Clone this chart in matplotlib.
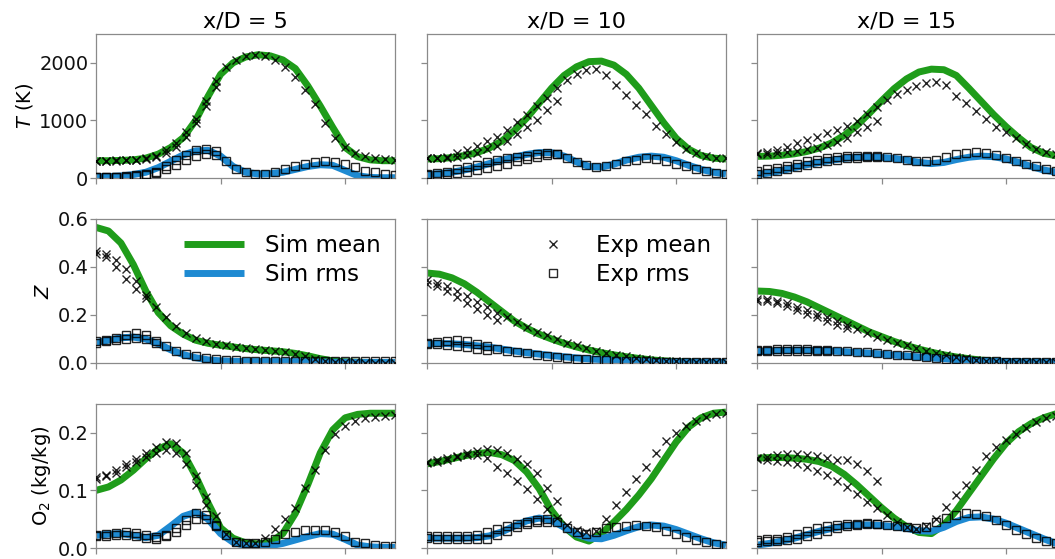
import numpy as np
import matplotlib
matplotlib.use("Agg")
import matplotlib.pyplot as plt

# ---------------- data ----------------
col_titles = ["x/D = 5", "x/D = 10", "x/D = 15"]
row_labels = [r"$T$ (K)", r"$Z$", r"O$_2$ (kg/kg)"]

x_sim = np.round(np.arange(25) * 0.1, 2)   # radial positions, simulation
x_exp = np.round(np.arange(31) * 0.08, 2)  # radial positions, experiment

# ---- Temperature ----
T5_sim_mean = [300, 300, 305, 315, 345, 415, 530, 700, 1000, 1420, 1800, 2000, 2100, 2140, 2120, 2050, 1900, 1600, 1250, 880, 530, 370, 315, 300, 300]
T5_sim_rms = [20, 25, 35, 60, 100, 180, 290, 400, 470, 480, 380, 200, 100, 70, 75, 100, 150, 200, 230, 220, 130, 40, 10, 5, 5]
T5_exp_mean = [300, 300, 305, 310, 320, 340, 390, 480, 600, 800, 1030, 1330, 1680, 1920, 2050, 2110, 2140, 2110, 2040, 1930, 1760, 1530, 1280, 960, 700, 540, 430, 380, 355, 330, 310]
T5_exp_mean2 = [300, 300, 300, 305, 310, 325, 360, 430, 540, 720, 950, 1250, 1580]
T5_exp_rms = [20, 22, 25, 30, 45, 65, 110, 200, 310, 400, 480, 510, 470, 300, 160, 100, 75, 75, 100, 150, 200, 240, 270, 290, 280, 240, 190, 130, 100, 70, 50]
T5_exp_rms2 = [15, 18, 20, 25, 35, 55, 90, 150, 230, 310, 380, 420, 400]

T10_sim_mean = [330, 335, 355, 390, 440, 520, 640, 820, 1040, 1300, 1560, 1780, 1930, 2020, 2030, 1960, 1800, 1560, 1260, 960, 690, 500, 390, 345, 330]
T10_sim_rms = [60, 75, 100, 140, 190, 250, 310, 360, 410, 440, 440, 380, 280, 200, 190, 240, 310, 360, 380, 360, 300, 220, 150, 100, 70]
T10_exp_mean = [340, 350, 370, 430, 490, 560, 640, 720, 840, 970, 1100, 1250, 1390, 1560, 1710, 1810, 1880, 1890, 1780, 1620, 1440, 1270, 1110, 910, 760, 620, 500, 430, 380, 350, 340]
T10_exp_mean2 = [340, 340, 350, 370, 400, 440, 500, 560, 650, 760, 880, 1000, 1180, 1330]
T10_exp_rms = [70, 85, 110, 150, 190, 230, 270, 310, 340, 370, 390, 410, 430, 420, 350, 280, 220, 185, 200, 250, 290, 320, 340, 330, 300, 250, 200, 150, 115, 85, 70]
T10_exp_rms2 = [50, 55, 65, 85, 110, 140, 175, 210, 250, 290, 330, 370, 400, 410]

T15_sim_mean = [375, 380, 395, 420, 460, 520, 610, 740, 910, 1120, 1340, 1550, 1720, 1840, 1890, 1880, 1780, 1560, 1330, 1100, 890, 700, 530, 430, 385]
T15_sim_rms = [60, 90, 130, 180, 230, 270, 310, 340, 360, 360, 355, 340, 310, 270, 250, 270, 320, 360, 380, 370, 330, 270, 200, 140, 100]
T15_exp_mean = [430, 460, 490, 540, 600, 660, 710, 775, 830, 900, 990, 1110, 1240, 1360, 1450, 1530, 1590, 1650, 1660, 1610, 1424, 1297, 1164, 1020, 893, 790, 686, 588, 500, 444, 410]
T15_exp_mean2 = [420, 425, 435, 455, 475, 495, 525, 570, 630, 700, 790, 880, 990]
T15_exp_rms = [130, 150, 175, 210, 250, 290, 320, 345, 360, 375, 380, 380, 375, 365, 345, 320, 300, 295, 320, 360, 410, 440, 450, 440, 400, 350, 300, 250, 200, 160, 120]
T15_exp_rms2 = [75, 90, 115, 150, 190, 230, 265, 295, 320, 340, 355, 365, 370]

# ---- Mixture fraction ----
Z5_sim_mean = [0.565, 0.55, 0.50, 0.41, 0.30, 0.21, 0.155, 0.12, 0.095, 0.082, 0.074, 0.067, 0.060, 0.055, 0.051, 0.047, 0.040, 0.030, 0.018, 0.009, 0.005, 0.003, 0.002, 0.001, 0.001]
Z5_sim_rms = [0.085, 0.095, 0.105, 0.108, 0.10, 0.08, 0.055, 0.035, 0.022, 0.013, 0.009, 0.007, 0.006, 0.006, 0.006, 0.006, 0.006, 0.005, 0.004, 0.003, 0.003, 0.002, 0.002, 0.002, 0.002]
Z5_exp_mean = [0.465, 0.455, 0.43, 0.39, 0.34, 0.285, 0.235, 0.19, 0.155, 0.125, 0.105, 0.09, 0.08, 0.073, 0.067, 0.062, 0.058, 0.055, 0.05, 0.045, 0.037, 0.028, 0.018, 0.01, 0.006, 0.004, 0.003, 0.002, 0.002, 0.001, 0.001]
Z5_exp_mean2 = [0.455, 0.44, 0.40, 0.35, 0.31, 0.27]
Z5_exp_rms = [0.09, 0.095, 0.105, 0.115, 0.125, 0.115, 0.09, 0.07, 0.052, 0.038, 0.028, 0.02, 0.015, 0.012, 0.011, 0.01, 0.01, 0.01, 0.01, 0.01, 0.009, 0.009, 0.009, 0.008, 0.008, 0.008, 0.008, 0.007, 0.007, 0.007, 0.007]
Z5_exp_rms2 = [0.085, 0.09, 0.095, 0.10, 0.105, 0.10, 0.085]

Z10_sim_mean = [0.375, 0.37, 0.355, 0.33, 0.295, 0.255, 0.215, 0.175, 0.145, 0.12, 0.10, 0.082, 0.067, 0.054, 0.043, 0.034, 0.026, 0.019, 0.013, 0.009, 0.006, 0.004, 0.003, 0.002, 0.002]
Z10_sim_rms = [0.08, 0.081, 0.08, 0.077, 0.072, 0.066, 0.058, 0.05, 0.043, 0.037, 0.031, 0.026, 0.021, 0.017, 0.014, 0.011, 0.009, 0.007, 0.006, 0.005, 0.004, 0.004, 0.003, 0.003, 0.003]
Z10_exp_mean = [0.345, 0.335, 0.32, 0.30, 0.28, 0.255, 0.235, 0.21, 0.19, 0.17, 0.15, 0.13, 0.115, 0.10, 0.085, 0.073, 0.062, 0.052, 0.043, 0.035, 0.028, 0.022, 0.016, 0.012, 0.009, 0.007, 0.006, 0.005, 0.005, 0.004, 0.004]
Z10_exp_mean2 = [0.33, 0.32, 0.30, 0.275, 0.25, 0.225, 0.20, 0.18]
Z10_exp_rms = [0.085, 0.088, 0.092, 0.095, 0.09, 0.08, 0.07, 0.06, 0.052, 0.045, 0.04, 0.035, 0.03, 0.026, 0.022, 0.018, 0.015, 0.013, 0.011, 0.009, 0.008, 0.007, 0.007, 0.006, 0.006, 0.006, 0.005, 0.005, 0.005, 0.005, 0.005]
Z10_exp_rms2 = [0.08, 0.078, 0.075, 0.07, 0.065, 0.06, 0.055]

Z15_sim_mean = [0.30, 0.298, 0.29, 0.275, 0.255, 0.23, 0.205, 0.18, 0.155, 0.13, 0.11, 0.09, 0.073, 0.058, 0.045, 0.034, 0.025, 0.018, 0.012, 0.008, 0.006, 0.004, 0.003, 0.003, 0.002]
Z15_sim_rms = [0.047, 0.05, 0.052, 0.053, 0.053, 0.052, 0.05, 0.047, 0.044, 0.041, 0.037, 0.033, 0.029, 0.025, 0.021, 0.018, 0.014, 0.011, 0.009, 0.007, 0.006, 0.005, 0.004, 0.004, 0.003]
Z15_exp_mean = [0.265, 0.265, 0.26, 0.25, 0.235, 0.22, 0.205, 0.19, 0.175, 0.158, 0.14, 0.125, 0.11, 0.097, 0.085, 0.073, 0.062, 0.052, 0.042, 0.033, 0.025, 0.019, 0.014, 0.01, 0.008, 0.006, 0.005, 0.005, 0.004, 0.004, 0.004]
Z15_exp_mean2 = [0.26, 0.258, 0.25, 0.238, 0.222, 0.205, 0.19, 0.175, 0.16, 0.145]
Z15_exp_rms = [0.053, 0.055, 0.057, 0.058, 0.058, 0.057, 0.056, 0.054, 0.052, 0.05, 0.047, 0.044, 0.041, 0.038, 0.035, 0.032, 0.028, 0.025, 0.021, 0.018, 0.015, 0.012, 0.01, 0.008, 0.007, 0.006, 0.005, 0.005, 0.005, 0.004, 0.004]
Z15_exp_rms2 = [0.048, 0.05, 0.051, 0.052, 0.052, 0.051, 0.05, 0.048]

# ---- Oxygen mass fraction ----
O5_sim_mean = [0.10, 0.106, 0.118, 0.135, 0.155, 0.172, 0.181, 0.165, 0.125, 0.078, 0.035, 0.017, 0.009, 0.007, 0.01, 0.025, 0.06, 0.11, 0.165, 0.205, 0.226, 0.232, 0.234, 0.234, 0.234]
O5_sim_rms = [0.022, 0.024, 0.025, 0.022, 0.018, 0.022, 0.038, 0.055, 0.062, 0.05, 0.025, 0.01, 0.004, 0.003, 0.004, 0.008, 0.014, 0.02, 0.025, 0.024, 0.015, 0.005, 0.002, 0.001, 0.001]
O5_exp_mean = [0.123, 0.127, 0.135, 0.145, 0.155, 0.165, 0.176, 0.184, 0.182, 0.165, 0.125, 0.088, 0.055, 0.025, 0.01, 0.008, 0.009, 0.017, 0.033, 0.051, 0.07, 0.105, 0.135, 0.17, 0.198, 0.212, 0.22, 0.225, 0.228, 0.23, 0.231]
O5_exp_mean2 = [0.12, 0.125, 0.13, 0.14, 0.15, 0.158, 0.165, 0.17, 0.165, 0.145, 0.11, 0.075]
O5_exp_rms = [0.022, 0.024, 0.026, 0.028, 0.026, 0.022, 0.019, 0.022, 0.034, 0.048, 0.06, 0.058, 0.04, 0.022, 0.011, 0.008, 0.008, 0.01, 0.016, 0.024, 0.028, 0.031, 0.032, 0.032, 0.028, 0.02, 0.011, 0.008, 0.005, 0.004, 0.0035]
O5_exp_rms2 = [0.02, 0.021, 0.022, 0.023, 0.02, 0.017, 0.016, 0.02, 0.028, 0.04, 0.05, 0.05, 0.038]

O10_sim_mean = [0.146, 0.150, 0.155, 0.16, 0.164, 0.166, 0.162, 0.152, 0.132, 0.103, 0.065, 0.037, 0.019, 0.012, 0.025, 0.045, 0.067, 0.092, 0.12, 0.152, 0.184, 0.21, 0.226, 0.234, 0.236]
O10_sim_rms = [0.017, 0.017, 0.017, 0.017, 0.018, 0.021, 0.028, 0.038, 0.047, 0.052, 0.048, 0.036, 0.024, 0.017, 0.016, 0.022, 0.03, 0.037, 0.04, 0.038, 0.032, 0.024, 0.016, 0.009, 0.005]
O10_exp_mean = [0.148, 0.15, 0.153, 0.158, 0.162, 0.162, 0.156, 0.141, 0.13, 0.117, 0.102, 0.085, 0.068, 0.052, 0.04, 0.031, 0.027, 0.03, 0.05, 0.075, 0.098, 0.12, 0.14, 0.165, 0.185, 0.2, 0.212, 0.221, 0.228, 0.232, 0.235]
O10_exp_mean2 = [0.15, 0.152, 0.156, 0.16, 0.165, 0.169, 0.172, 0.17, 0.165, 0.155, 0.145, 0.13, 0.105, 0.082]
O10_exp_rms = [0.02, 0.02, 0.02, 0.02, 0.021, 0.022, 0.027, 0.033, 0.038, 0.042, 0.045, 0.048, 0.05, 0.045, 0.035, 0.028, 0.024, 0.028, 0.034, 0.037, 0.039, 0.04, 0.039, 0.036, 0.03, 0.024, 0.019, 0.014, 0.01, 0.007, 0.004]
O10_exp_rms2 = [0.017, 0.016, 0.016, 0.016, 0.016, 0.015, 0.016, 0.022, 0.03, 0.036, 0.042, 0.046, 0.045]

O15_sim_mean = [0.156, 0.157, 0.157, 0.156, 0.154, 0.15, 0.142, 0.128, 0.11, 0.09, 0.07, 0.052, 0.037, 0.027, 0.025, 0.04, 0.065, 0.095, 0.125, 0.155, 0.182, 0.202, 0.216, 0.226, 0.233]
O15_sim_rms = [0.005, 0.008, 0.012, 0.017, 0.023, 0.029, 0.034, 0.038, 0.04, 0.04, 0.039, 0.037, 0.034, 0.03, 0.029, 0.036, 0.046, 0.053, 0.054, 0.05, 0.043, 0.034, 0.025, 0.016, 0.008]
O15_exp_mean = [0.154, 0.153, 0.151, 0.149, 0.145, 0.14, 0.134, 0.126, 0.117, 0.106, 0.094, 0.08, 0.07, 0.057, 0.046, 0.037, 0.033, 0.038, 0.05, 0.072, 0.092, 0.11, 0.135, 0.16, 0.176, 0.188, 0.198, 0.209, 0.218, 0.225, 0.23]
O15_exp_mean2 = [0.157, 0.158, 0.161, 0.163, 0.163, 0.162, 0.16, 0.157, 0.153, 0.152, 0.145, 0.133, 0.117]
O15_exp_rms = [0.014, 0.015, 0.016, 0.019, 0.024, 0.029, 0.034, 0.038, 0.04, 0.041, 0.042, 0.043, 0.042, 0.04, 0.038, 0.036, 0.035, 0.037, 0.045, 0.052, 0.057, 0.06, 0.059, 0.055, 0.048, 0.04, 0.032, 0.024, 0.017, 0.012, 0.008]
O15_exp_rms2 = [0.011, 0.012, 0.013, 0.014, 0.016, 0.02, 0.025, 0.03, 0.034, 0.038, 0.04, 0.041, 0.041]

panels = [
    [(T5_sim_mean, T5_sim_rms, T5_exp_mean, T5_exp_mean2, T5_exp_rms, T5_exp_rms2),
     (T10_sim_mean, T10_sim_rms, T10_exp_mean, T10_exp_mean2, T10_exp_rms, T10_exp_rms2),
     (T15_sim_mean, T15_sim_rms, T15_exp_mean, T15_exp_mean2, T15_exp_rms, T15_exp_rms2)],
    [(Z5_sim_mean, Z5_sim_rms, Z5_exp_mean, Z5_exp_mean2, Z5_exp_rms, Z5_exp_rms2),
     (Z10_sim_mean, Z10_sim_rms, Z10_exp_mean, Z10_exp_mean2, Z10_exp_rms, Z10_exp_rms2),
     (Z15_sim_mean, Z15_sim_rms, Z15_exp_mean, Z15_exp_mean2, Z15_exp_rms, Z15_exp_rms2)],
    [(O5_sim_mean, O5_sim_rms, O5_exp_mean, O5_exp_mean2, O5_exp_rms, O5_exp_rms2),
     (O10_sim_mean, O10_sim_rms, O10_exp_mean, O10_exp_mean2, O10_exp_rms, O10_exp_rms2),
     (O15_sim_mean, O15_sim_rms, O15_exp_mean, O15_exp_mean2, O15_exp_rms, O15_exp_rms2)],
]

row_ylim = [(0, 2500), (0, 0.6), (0, 0.25)]
row_yticks = [[0, 1000, 2000], [0.0, 0.2, 0.4, 0.6], [0.0, 0.1, 0.2]]
row_yfmt = ["{:.0f}", "{:.1f}", "{:.1f}"]

# ---------------- figure ----------------
GREEN = "#1f9c1a"
BLUE = "#1e8ad2"
SPINE = "#8a8a8a"

W, H = 1055, 559
fig = plt.figure(figsize=(W / 100, H / 100), dpi=100)
col_left = [96, 427, 757]
row_top = [34, 219, 404]
ax_w, ax_h = 299, 144

axes = [[None] * 3 for _ in range(3)]
for r in range(3):
    for c in range(3):
        ax = fig.add_axes([col_left[c] / W, 1 - (row_top[r] + ax_h) / H, ax_w / W, ax_h / H])
        axes[r][c] = ax
        sm, sr, em, em2, er, er2 = panels[r][c]
        ax.plot(x_sim, sm, color=GREEN, lw=5, solid_capstyle="butt", label="Sim mean", zorder=2)
        ax.plot(x_sim, sr, color=BLUE, lw=5, solid_capstyle="butt", label="Sim rms", zorder=2)
        ax.plot(x_exp, em, ls="none", marker="x", ms=5.5, mew=1.0, color="black", alpha=0.85, label="Exp mean", zorder=3)
        ax.plot(x_exp[:len(em2)], em2, ls="none", marker="x", ms=5.5, mew=1.0, color="black", alpha=0.85, zorder=3)
        ax.plot(x_exp, er, ls="none", marker="s", ms=5.5, mew=1.0, mfc="none", mec="black", alpha=0.85, label="Exp rms", zorder=3)
        ax.plot(x_exp[:len(er2)], er2, ls="none", marker="s", ms=5.5, mew=1.0, mfc="none", mec="black", alpha=0.85, zorder=3)

        ax.set_xlim(0, 2.4)
        ax.set_ylim(*row_ylim[r])
        ax.set_xticks([0, 1, 2])
        ax.set_xticklabels([])
        ax.set_yticks(row_yticks[r])
        if c == 0:
            ax.set_yticklabels([row_yfmt[r].format(v) for v in row_yticks[r]], fontsize=14)
            ax.set_ylabel(row_labels[r], fontsize=14, labelpad=3)
        else:
            ax.set_yticklabels([])
        for s in ax.spines.values():
            s.set_color(SPINE)
            s.set_linewidth(0.9)
        ax.tick_params(axis="both", direction="out", length=4, width=0.9, color=SPINE, pad=1.5, labelcolor="#111111")
        if r == 0:
            ax.set_title(col_titles[c], fontsize=16, pad=5)

# legends
h, l = axes[1][0].get_legend_handles_labels()
axes[1][0].legend(h[:2], l[:2], loc="upper right", frameon=False, fontsize=16.5,
                  handlelength=2.6, handletextpad=0.9, labelspacing=0.25,
                  bbox_to_anchor=(1.02, 1.04))
h, l = axes[1][1].get_legend_handles_labels()
axes[1][1].legend(h[2:4], l[2:4], loc="upper right", frameon=False, fontsize=16.5,
                  handlelength=1.2, handletextpad=1.3, labelspacing=0.25,
                  bbox_to_anchor=(1.02, 1.04))

fig.savefig("out.png", dpi=100)
